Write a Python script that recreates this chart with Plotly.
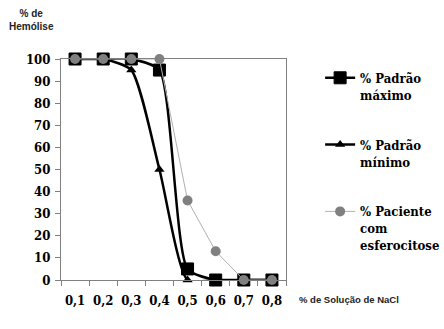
import plotly.graph_objects as go

categories = ["0,1", "0,2", "0,3", "0,4", "0,5", "0,6", "0,7", "0,8"]
padrao_max = [100, 100, 100, 95, 5, 0, 0, 0]
padrao_min = [100, 100, 95, 50, 0, 0, 0, 0]
paciente = [100, 100, 100, 100, 36, 13, 0, 0]
yticks = [0, 10, 20, 30, 40, 50, 60, 70, 80, 90, 100]

serif_leg = dict(family="DejaVu Serif Condensed", size=13, color="black", weight="bold")
serif_tick = dict(family="DejaVu Serif Condensed", size=13, color="black", weight="bold")

fig = go.Figure()
fig.add_trace(go.Scatter(
    x=categories, y=padrao_max, mode="lines+markers",
    name="% Padrão<br>máximo", legendgroup="a",
    line=dict(color="black", width=2.5, shape="spline", smoothing=0.6),
    marker=dict(symbol="square", size=12, color="black", line=dict(color="black", width=1)),
    cliponaxis=False))
fig.add_trace(go.Scatter(
    x=categories, y=padrao_min, mode="lines+markers",
    name="% Padrão<br>mínimo", legendgroup="b",
    line=dict(color="black", width=2.5, shape="spline", smoothing=0.6),
    marker=dict(symbol="triangle-up", size=9, color="black"),
    cliponaxis=False))
fig.add_trace(go.Scatter(
    x=categories, y=paciente, mode="lines+markers",
    name="% Paciente<br>com<br>esferocitose", legendgroup="c",
    line=dict(color="#b0b0b0", width=1),
    marker=dict(symbol="circle", size=10, color="#808080", line=dict(color="#808080", width=0)),
    cliponaxis=False))

fig.update_layout(
    width=444, height=329,
    margin=dict(l=61, r=158, t=59, b=49),
    paper_bgcolor="white", plot_bgcolor="white",
    showlegend=True,
    legend=dict(xref="container", yref="container", x=0.721, y=0.809,
                xanchor="left", yanchor="top", maxheight=300,
                font=serif_leg, valign="top", tracegroupgap=30,
                itemwidth=30, bgcolor="rgba(0,0,0,0)"),
    xaxis=dict(type="category", range=[-0.5, 7.5], tickson="boundaries",
               ticks="outside", ticklen=5, tickcolor="#808080", tickangle=0,
               showline=True, linecolor="#808080", linewidth=1, mirror=True,
               showgrid=False, tickfont=serif_tick, ticklabelstandoff=8),
    yaxis=dict(range=[0, 100], tickvals=yticks, ticks="outside", ticklen=5,
               tickcolor="#808080", showline=True, linecolor="#808080",
               linewidth=1, mirror=True, showgrid=False, zeroline=False,
               tickfont=serif_tick, ticklabelstandoff=2),
    annotations=[
        dict(text="<b>% de</b><br><b>Hemólise</b>", xref="paper", yref="paper",
             x=-0.13, y=1.113, xanchor="center", yanchor="bottom", showarrow=False,
             font=dict(family="Liberation Sans", size=10, color="#222")),
        dict(text="<b>% de Solução de NaCl</b>", xref="paper", yref="paper",
             x=1.05, y=-0.09, xanchor="left", yanchor="middle", showarrow=False,
             font=dict(family="Liberation Sans", size=9.5, color="#222")),
    ],
)

fig.write_html("out.html")
